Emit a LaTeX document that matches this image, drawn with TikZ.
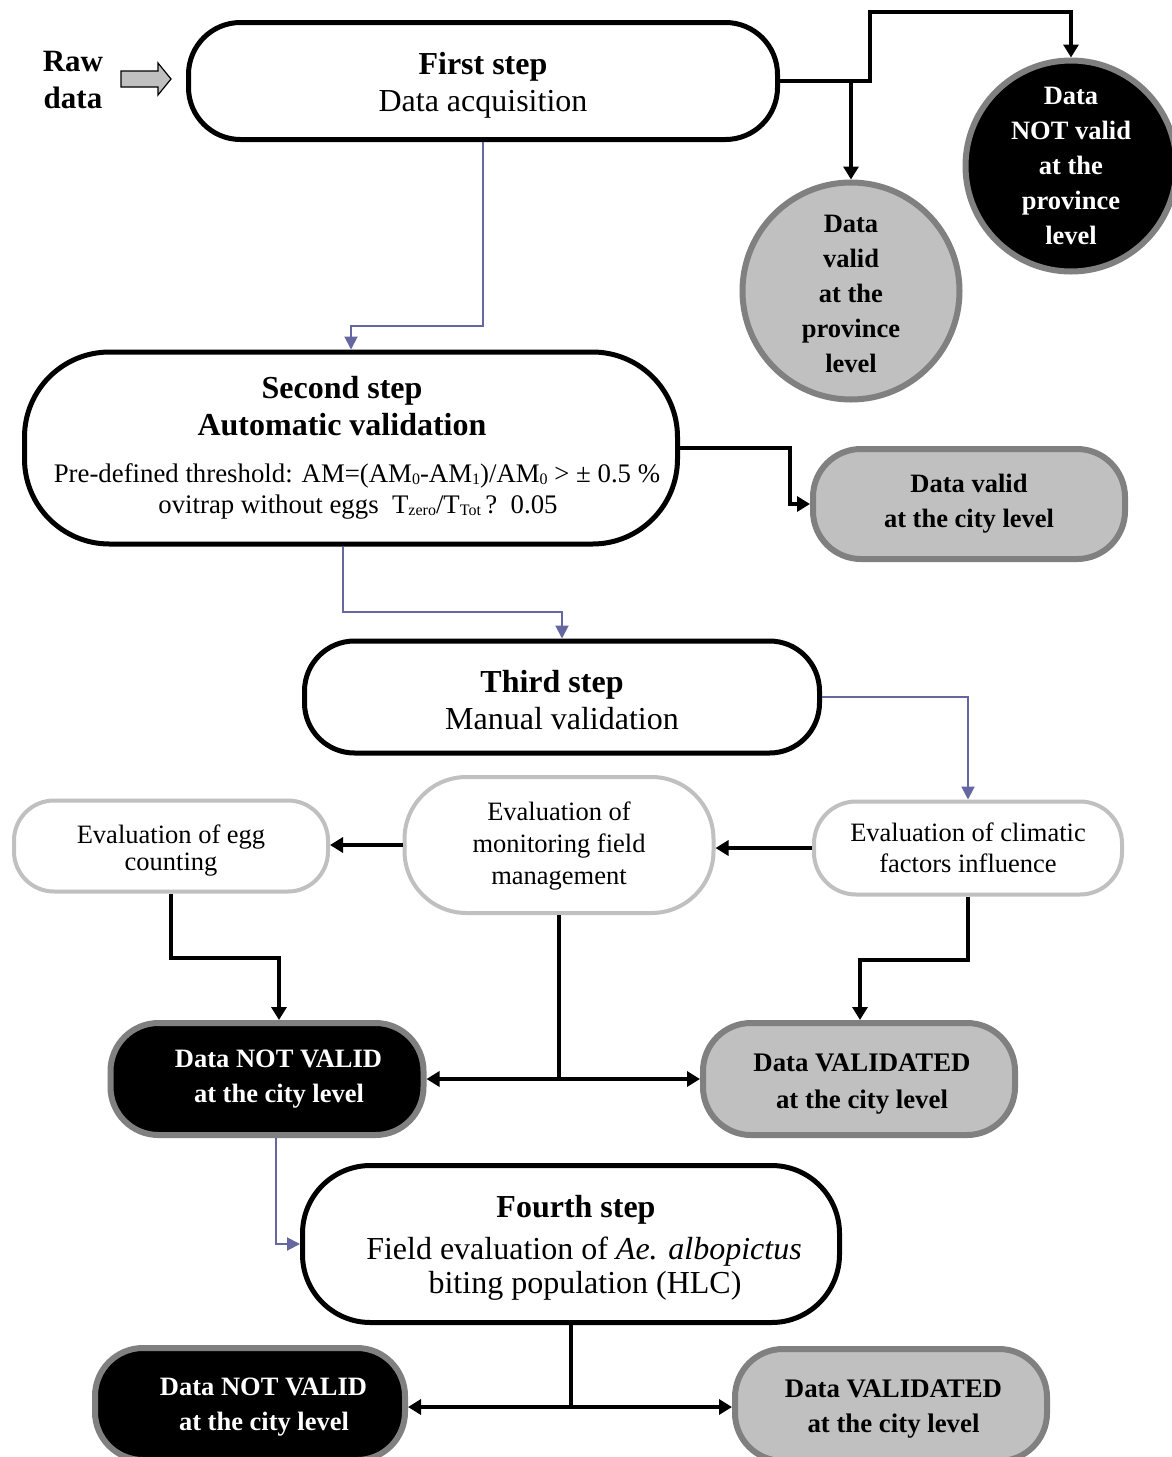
\documentclass[tikz,border=0pt]{standalone}
\usepackage{fontspec}
\setmainfont{Liberation Serif}
\usetikzlibrary{arrows.meta,shapes.geometric}
\definecolor{gfill}{RGB}{192,192,192}
\definecolor{gline}{RGB}{128,128,128}
\definecolor{lline}{RGB}{192,192,192}
\definecolor{bline}{RGB}{102,102,160}
\newcommand{\mysub}[1]{\raisebox{-1.5pt}{\fontsize{16}{16}\selectfont #1}}
\newcommand{\tp}[1]{\rule{0pt}{#1}}
\tikzset{
 stepbox/.style={draw=black, line width=5pt, fill=white, align=center, font=\fontsize{32}{37}\selectfont, inner sep=0pt},
 evalbox/.style={draw=lline, line width=4pt, fill=white, align=center, font=\fontsize{26.5}{31}\selectfont, inner sep=0pt},
 greybox/.style={draw=gline, line width=6pt, fill=gfill, align=center, font=\bfseries\fontsize{26.8}{36}\selectfont, inner sep=0pt},
 blackbox/.style={draw=gline, line width=6pt, fill=black, text=white, align=center, font=\bfseries\fontsize{26.5}{35}\selectfont, inner sep=0pt},
 conn/.style={line width=3.5pt, -{Triangle[length=13pt,width=15pt]}},
 blueconn/.style={draw=bline, line width=2pt, -{Triangle[length=13pt,width=13pt]}},
 plainconn/.style={line width=3.5pt},
}
\begin{document}
\begin{tikzpicture}[x=1pt,y=-1pt]
\useasboundingbox (0,0) rectangle (1172,1457);
\clip (0,0) rectangle (1172,1457);
\fill[white] (0,0) rectangle (1172,1457);

% raw data
\node[font=\bfseries\fontsize{31}{37}\selectfont, align=center, inner sep=0pt] (raw) at (73,80) {Raw\\data};
\draw[fill=gfill, line width=1.2pt] (121,71) -- (158,71) -- (158,63) -- (171,79) -- (158,95) -- (158,87) -- (121,87) -- cycle;

% nodes
\node[stepbox, minimum width=589, minimum height=117, rounded corners=52] (first) at (483,81) {\tp{30pt}{\bfseries First step}\\Data acquisition};
\node[stepbox, minimum width=653, minimum height=192, rounded corners=85] (second) at (351,448)
 {\hspace*{-18pt}{\bfseries Second step}\\\hspace*{-18pt}{\bfseries Automatic validation}\\[10pt]\hspace*{12pt}{\fontsize{26.8}{31}\selectfont Pre-defined threshold: AM=(AM\mysub{0}-AM\mysub{1})/AM\mysub{0} > ± 0.5 \%}\\[-6pt]\hspace*{14pt}{\fontsize{26.8}{31}\selectfont ovitrap without eggs\ \ T\mysub{zero}/T\mysub{Tot}\,?\ \ 0.05}};
\node[stepbox, minimum width=515, minimum height=112, rounded corners=50] (third) at (562,697) {\tp{28pt}\hspace*{-20pt}{\bfseries Third step}\\Manual validation};
\node[stepbox, minimum width=537, minimum height=157, rounded corners=68] (fourth) at (571,1244) {\tp{30pt}\hspace*{10pt}{\bfseries Fourth step}\\[5pt]\hspace*{26pt}Field evaluation of \textit{Ae. albopictus}\\[-3pt]\hspace*{28pt}biting population (HLC)};

\node[greybox, circle, minimum size=217, font=\bfseries\fontsize{26.5}{35}\selectfont] (provValid) at (851,291) {\tp{23pt}Data\\valid\\at the\\province\\level};
\node[blackbox, circle, minimum size=211] (provNot) at (1071,166) {Data\\NOT valid\\at the\\province\\level};

\node[greybox, minimum width=312, minimum height=110, rounded corners=48, font=\bfseries\fontsize{26.5}{35}\selectfont] (cityValid) at (969,504) {Data valid\\at the city level};

\node[evalbox, minimum width=314, minimum height=91, rounded corners=40] (egg) at (171,846) {\tp{27pt}Evaluation of egg\\[-4pt]counting};
\node[evalbox, minimum width=309, minimum height=136, rounded corners=62, font=\fontsize{26.5}{32}\selectfont] (monitor) at (559,845) {\tp{21pt}Evaluation of\\monitoring field\\management};
\node[evalbox, minimum width=308, minimum height=93, rounded corners=42] (climatic) at (968,848) {Evaluation of climatic\\factors influence};

\node[blackbox, minimum width=313, minimum height=112, rounded corners=48] (notValid1) at (267,1079) {\hspace*{23pt}Data NOT VALID\\\hspace*{24pt}at the city level};
\node[greybox, minimum width=312, minimum height=112, rounded corners=48, font=\bfseries\fontsize{26.8}{37}\selectfont] (validated1) at (859,1079) {\tp{28pt}\hspace*{6pt}Data VALIDATED\\\hspace*{6pt}at the city level};
\node[blackbox, minimum width=310, minimum height=112, rounded corners=48] (notValid2) at (250,1404) {\tp{24pt}\hspace*{27pt}Data NOT VALID\\\hspace*{28pt}at the city level};
\node[greybox, minimum width=312, minimum height=112, rounded corners=48, font=\bfseries\fontsize{26.8}{35}\selectfont] (validated2) at (891,1405) {\tp{26pt}\hspace*{5pt}Data VALIDATED\\\hspace*{5pt}at the city level};

% junction coordinates
\coordinate (j1) at (870,12);
\coordinate (j2) at (351,326);
\coordinate (j3) at (790,448);
\coordinate (j4) at (562,612);
\coordinate (j5) at (279,958);
\coordinate (j6) at (860,960);
\coordinate (j7) at (559,1079);
\coordinate (j8) at (571,1407);

% connectors
\draw[conn] (first.east) -| (provValid.north);
\draw[conn] (first.east) -| (j1) -| (provNot.north);
\draw[blueconn] (first.south) |- (j2) -- (second.north);
\draw[conn] (second.east) -- (j3) |- (cityValid.west);
\draw[blueconn] ([xshift=-8pt]second.south) |- (j4) -- (third.north);
\draw[blueconn] (third.east) -| (climatic.north);
\draw[conn] (climatic.west) -- (climatic.west -| monitor.east);
\draw[conn] (monitor.west) -- (monitor.west -| egg.east);
\draw[conn] (egg.south) |- (j5) -- (j5 |- notValid1.north);
\draw[conn] (climatic.south) |- (j6) -- (j6 |- validated1.north);
\draw[plainconn] (monitor.south) -- (j7);
\draw[conn] (j7) -- (j7 -| notValid1.east);
\draw[conn] (j7) -- (j7 -| validated1.west);
\draw[blueconn] ([xshift=9pt]notValid1.south) |- (fourth.west);
\draw[plainconn] (fourth.south) -- (j8);
\draw[conn] (j8) -- (j8 -| notValid2.east);
\draw[conn] (j8) -- (j8 -| validated2.west);
\end{tikzpicture}
\end{document}
